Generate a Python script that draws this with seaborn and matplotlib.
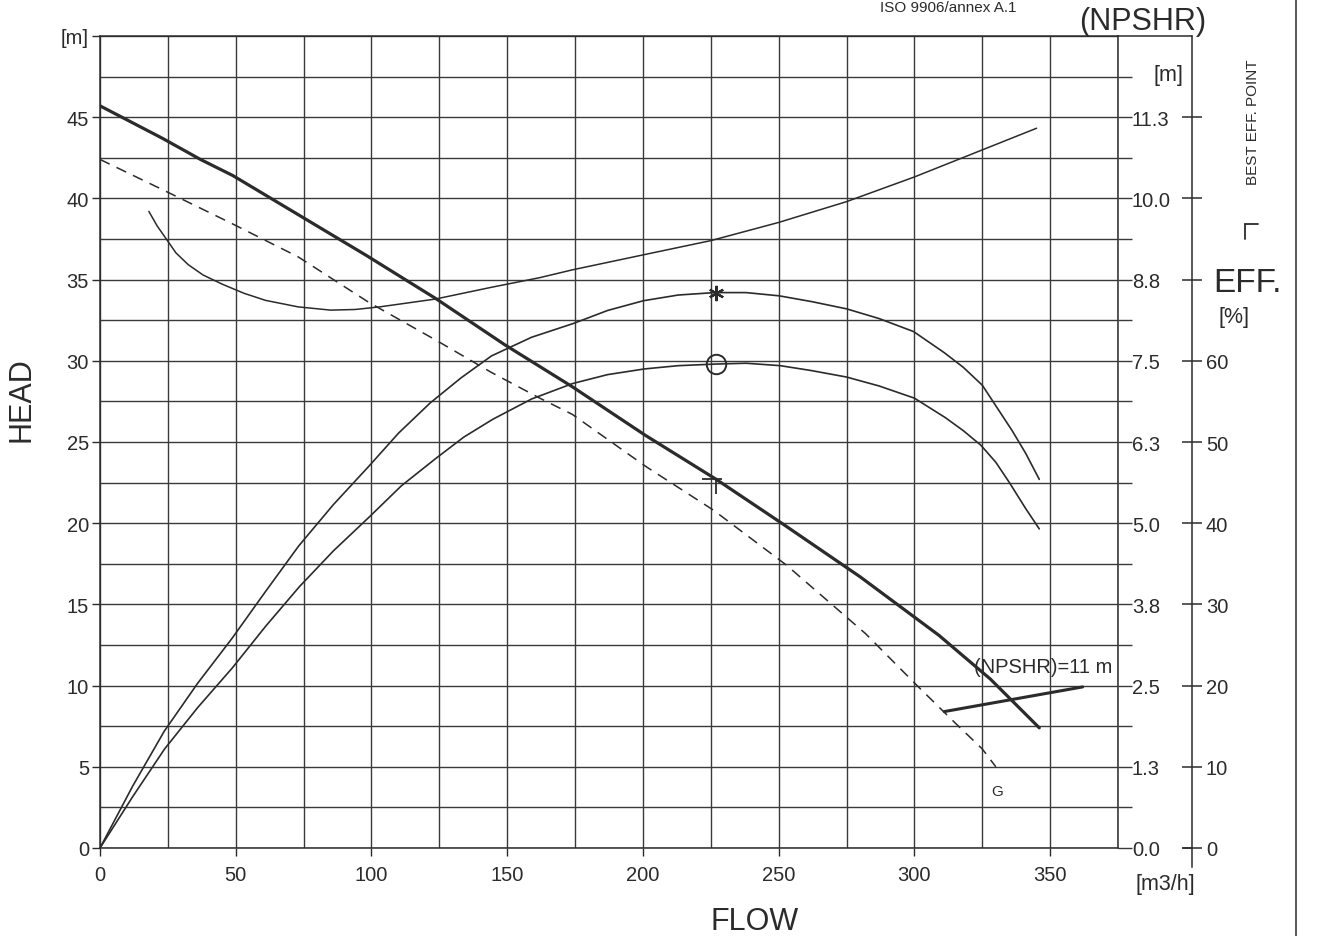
import matplotlib
matplotlib.use("Agg")
import matplotlib.pyplot as plt
from matplotlib.path import Path
from matplotlib.lines import Line2D
import seaborn as sns

# ---- data ----
# pump head [m] vs flow [m3/h]
flow_head = [0, 23, 37, 49, 73, 98, 124, 149, 174, 201, 227, 252, 280, 309, 328, 346]
head = [45.7, 43.7, 42.4, 41.4, 39.0, 36.5, 33.8, 31.0, 28.4, 25.4, 22.7, 19.9, 16.7, 13.1, 10.4, 7.4]

# curve G (dashed) [m]
flow_g = [0, 23.5, 48, 73, 99, 124.5, 144, 162, 174, 201, 226, 253, 282, 301, 315, 325, 330]
head_g = [42.4, 40.5, 38.5, 36.4, 33.6, 31.2, 29.3, 27.7, 26.7, 23.5, 20.8, 17.4, 13.2, 10.0, 7.7, 6.1, 5.0]

# NPSHR [m]
flow_npshr = [18, 21, 24, 28, 32.5, 38, 45, 53, 61, 73, 85, 94, 103, 123.5, 144, 162, 174,
              200, 225, 250, 275, 300, 324, 345]
npshr = [9.80, 9.58, 9.40, 9.16, 8.98, 8.82, 8.68, 8.54, 8.43, 8.33, 8.28, 8.29, 8.33, 8.45,
         8.63, 8.78, 8.90, 9.13, 9.35, 9.63, 9.95, 10.33, 10.73, 11.08]

# NPSHR = 11 m line
flow_npshr11 = [311, 362]
npshr11 = [2.10, 2.48]

# efficiency [%], upper and lower curve
flow_eff1 = [0, 12, 23.7, 36, 48.6, 61, 73.2, 86, 99, 110, 121.6, 133, 144.2, 159, 174.4, 187,
             200.2, 213, 226.4, 238, 250.2, 262, 275, 287, 299.7, 311, 318, 325, 336, 341, 346]
eff1 = [0, 7.6, 14.4, 20.3, 25.8, 31.6, 37.2, 42.3, 47.0, 51.1, 54.8, 57.9, 60.6, 62.9, 64.6, 66.2,
        67.4, 68.1, 68.4, 68.4, 68.0, 67.3, 66.4, 65.2, 63.6, 61.0, 59.2, 57.0, 51.4, 48.6, 45.4]
flow_eff2 = [0, 12, 23.8, 36, 48.8, 61, 73.5, 86, 99.3, 111, 123.8, 134, 144.7, 159, 174.1, 187,
             200.6, 213, 226.9, 238, 250.6, 262, 275, 287, 300, 311.4, 318, 324.5, 330, 335, 341, 346]
eff2 = [0, 6.3, 12.2, 17.3, 22.2, 27.3, 32.2, 36.6, 40.8, 44.6, 48.0, 50.6, 52.8, 55.3, 57.2, 58.3,
        59.0, 59.4, 59.6, 59.7, 59.4, 58.8, 58.0, 56.9, 55.4, 53.0, 51.4, 49.6, 47.5, 45.0, 41.8, 39.3]

# best efficiency point
bep_flow = 227
bep_eff1 = 68.4
bep_eff2 = 59.6
bep_head = 22.7

# axis ticks
head_ticks = [0, 5, 10, 15, 20, 25, 30, 35, 40, 45, 50]
head_labels = ['0', '5', '10', '15', '20', '25', '30', '35', '40', '45', '[m]']
flow_ticks = [0, 50, 100, 150, 200, 250, 300, 350]
npshr_ticks = [0, 1.25, 2.5, 3.75, 5.0, 6.25, 7.5, 8.75, 10.0, 11.25]
npshr_labels = ['0.0', '1.3', '2.5', '3.8', '5.0', '6.3', '7.5', '8.8', '10.0', '11.3']
eff_ticks = [0, 10, 20, 30, 40, 50, 60, 70, 80, 90]
eff_labels = ['0', '10', '20', '30', '40', '50', '60', '', '', '']

sns.set_theme(style="white")
plt.rcParams['font.family'] = ['Liberation Sans', 'DejaVu Sans']
ink = '#2b2b2b'
grid_c = '#3a3a3a'
tick_fs = 14.5

fig = plt.figure(figsize=(13.22, 9.37), dpi=100)
L, R = 100 / 1322, 1118 / 1322
B, T = (937 - 849) / 937, (937 - 37) / 937
ax = fig.add_axes([L, B, R - L, T - B])
ax.set_xlim(0, 375)
ax.set_ylim(0, 50)

# grid
ax.set_xticks(flow_ticks)
ax.set_xticks(list(range(25, 376, 50)), minor=True)
ax.set_yticks(head_ticks)
ax.set_yticklabels(head_labels)
ax.set_yticks([2.5 + 5 * k for k in range(10)], minor=True)
ax.grid(True, which='both', color=grid_c, linewidth=1.0)
ax.set_axisbelow(True)
for s in ax.spines.values():
    s.set_color(ink)
    s.set_linewidth(1.1)
ax.tick_params(axis='both', which='major', direction='out', length=6, width=1.0,
               color=ink, labelcolor=ink, labelsize=tick_fs, left=True, bottom=True)
ax.tick_params(axis='y', which='major', pad=2)
ax.tick_params(axis='x', which='major', pad=6)
ax.tick_params(which='minor', length=0)

# head curves
sns.lineplot(x=flow_head, y=head, ax=ax, color=ink, linewidth=2.3, estimator=None, sort=False)
sns.lineplot(x=flow_g, y=head_g, ax=ax, color=ink, linewidth=1.1, estimator=None, sort=False,
             linestyle=(0, (7, 5)))
tee = Path([(-0.7, 0), (0.3, 0), (0, 0), (0, -0.75)],
           [Path.MOVETO, Path.LINETO, Path.MOVETO, Path.LINETO])
ax.plot([bep_flow], [bep_head], marker=tee, markersize=22, color=ink, mew=1.3, linestyle='none')

# NPSHR axis
ax2 = ax.twinx()
ax2.set_ylim(0, 12.5)
ax2.set_yticks(npshr_ticks)
ax2.set_yticklabels(npshr_labels)
ax2.set_yticks([0.625 + 1.25 * k for k in range(10)], minor=True)
for s in ax2.spines.values():
    s.set_visible(False)
ax2.tick_params(axis='y', which='both', direction='out', length=10, width=1.0,
                color=grid_c, labelcolor=ink, labelsize=tick_fs, pad=0)
ax2.grid(False)
sns.lineplot(x=flow_npshr, y=npshr, ax=ax2, color=ink, linewidth=1.1, estimator=None, sort=False)
sns.lineplot(x=flow_npshr11, y=npshr11, ax=ax2, color=ink, linewidth=2.2, estimator=None, sort=False)

# efficiency axis
ax3 = ax.twinx()
ax3.set_ylim(0, 100)
for k in ['top', 'bottom', 'left']:
    ax3.spines[k].set_visible(False)
ax3.spines['right'].set_position(('axes', 1.0727))
ax3.spines['right'].set_color(ink)
ax3.spines['right'].set_linewidth(1.1)
ax3.spines['right'].set_bounds(-2.4, 100)
ax3.set_yticks(eff_ticks)
ax3.set_yticklabels(eff_labels)
ax3.tick_params(axis='y', direction='inout', length=14, width=1.1, color=ink,
                labelcolor=ink, labelsize=tick_fs, pad=3)
ax3.grid(False)
sns.lineplot(x=flow_eff1, y=eff1, ax=ax3, color=ink, linewidth=1.2, estimator=None, sort=False)
sns.lineplot(x=flow_eff2, y=eff2, ax=ax3, color=ink, linewidth=1.2, estimator=None, sort=False)
ax3.plot([bep_flow], [bep_eff1], marker=(6, 2, 0), markersize=11, color=ink, mew=1.6, linestyle='none')
ax3.plot([bep_flow], [bep_eff2], marker='o', markersize=14, mfc='none', mec=ink, mew=1.4, linestyle='none')
ax3.set_xlim(0, 375)
for a in (ax, ax2, ax3):
    a.set_xlabel('')
    a.set_ylabel('')

# frame pieces joining the two right-hand scales
ax.add_line(Line2D([1, 1.0727], [1, 1], transform=ax.transAxes, color=ink, lw=1.1, clip_on=False))
ax.add_line(Line2D([1.064, 1.0727], [0, 0], transform=ax.transAxes, color=ink, lw=1.1, clip_on=False))
fig.add_artist(Line2D([1296 / 1322, 1296 / 1322], [0, 1], transform=fig.transFigure, color=ink, lw=1.1))

# texts
ax.text(322, 11.2, '(NPSHR)=11 m', fontsize=14.5, color=ink, va='center', ha='left')
ax.text(330.5, 3.5, 'G', fontsize=11, color=ink, va='center', ha='center')
fig.text(22 / 1322, 1 - 400 / 937, 'HEAD', rotation=90, fontsize=22, color=ink, ha='center', va='center')
fig.text(755 / 1322, 1 - 922 / 937, 'FLOW', fontsize=22, color=ink, ha='center', va='center')
fig.text(1165 / 1322, 1 - 885 / 937, '[m3/h]', fontsize=15.5, color=ink, ha='center', va='center')
fig.text(1143 / 1322, 1 - 22 / 937, '(NPSHR)', fontsize=22, color=ink, ha='center', va='center')
fig.text(1168 / 1322, 1 - 75 / 937, '[m]', fontsize=15.5, color=ink, ha='center', va='center')
fig.text(1247 / 1322, 1 - 283 / 937, 'EFF.', fontsize=24, color=ink, ha='center', va='center')
fig.text(1234 / 1322, 1 - 318 / 937, '[%]', fontsize=15.5, color=ink, ha='center', va='center')
fig.text(1253 / 1322, 1 - 122 / 937, 'BEST EFF. POINT', rotation=90, fontsize=11, color=ink,
         ha='center', va='center')
fig.add_artist(Line2D([1245 / 1322, 1245 / 1322], [1 - 240 / 937, 1 - 225 / 937], color=ink, lw=1.3))
fig.add_artist(Line2D([1245 / 1322, 1258 / 1322], [1 - 225 / 937, 1 - 225 / 937], color=ink, lw=1.3))
fig.text(880 / 1322, 1 - 1 / 937, 'ISO 9906/annex A.1', fontsize=11, color=ink, ha='left', va='top')

fig.savefig('out.png', dpi=100, facecolor='white')
